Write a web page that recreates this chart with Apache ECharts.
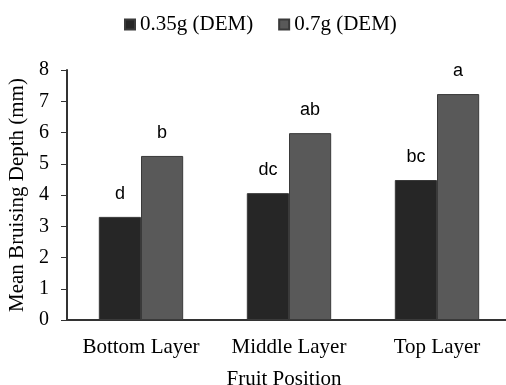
<!DOCTYPE html>
<html>
<head>
<meta charset="utf-8">
<script src="https://cdn.jsdelivr.net/npm/echarts@6/dist/echarts.min.js"></script>
<style>
  html, body { margin: 0; padding: 0; background: #fff; }
  #bruise_chart { width: 506px; height: 385px; }
</style>
</head>
<body>
<div id="bruise_chart"></div>
<script>
var categories = ['Bottom Layer', 'Middle Layer', 'Top Layer'];
var seriesNames = ['0.35g (DEM)', '0.7g (DEM)'];
var lowDrop = [3.3, 4.06, 4.48];
var highDrop = [5.25, 5.98, 7.23];
var lowLetters = ['d', 'dc', 'bc'];
var highLetters = ['b', 'ab', 'a'];
var yTicks = [0, 1, 2, 3, 4, 5, 6, 7, 8];

var serif = '"Liberation Serif", "Times New Roman", serif';
var sans = '"Liberation Sans", "DejaVu Sans", sans-serif';

function barSeries(name, values, letters, color) {
  return {
    name: name,
    type: 'bar',
    barGap: '0%',
    barCategoryGap: '43%',
    data: values,
    itemStyle: { color: color, borderColor: '#3a3a3a', borderWidth: 1 },
    label: {
      show: true,
      position: 'top',
      distance: 14,
      fontFamily: sans,
      fontSize: 18,
      color: '#000',
      formatter: function (p) { return letters[p.dataIndex]; }
    }
  };
}

var chart = echarts.init(document.getElementById('bruise_chart'));
chart.setOption({
  animation: false,
  legend: {
    top: 9,
    left: 119,
    itemWidth: 10,
    itemHeight: 10,
    itemGap: 25,
    icon: 'rect',
    textStyle: { fontFamily: serif, fontSize: 21, color: '#000' },
    data: seriesNames
  },
  grid: { left: 67, right: -5, top: 70, bottom: 65, containLabel: false, outerBoundsMode: 'none' },
  xAxis: {
    type: 'category',
    data: categories,
    name: 'Fruit Position',
    nameLocation: 'middle',
    nameGap: 49,
    nameTextStyle: { fontFamily: serif, fontSize: 21, color: '#000', padding: [0, 10, 0, 0] },
    axisLine: { lineStyle: { color: '#333', width: 2 } },
    axisTick: { show: false },
    axisLabel: { interval: 0, fontFamily: serif, fontSize: 21, color: '#000', margin: 17 }
  },
  yAxis: {
    type: 'value',
    min: yTicks[0],
    max: yTicks[yTicks.length - 1],
    interval: 1,
    name: 'Mean Bruising Depth (mm)',
    nameLocation: 'middle',
    nameGap: 36,
    nameTextStyle: { fontFamily: serif, fontSize: 21, color: '#000' },
    axisLine: { show: true, lineStyle: { color: '#333', width: 2 } },
    axisTick: { show: true, length: 6, lineStyle: { color: '#333' } },
    splitLine: { show: false },
    axisLabel: { fontFamily: serif, fontSize: 20, color: '#000', margin: 18 }
  },
  series: [
    barSeries(seriesNames[0], lowDrop, lowLetters, '#262626'),
    barSeries(seriesNames[1], highDrop, highLetters, '#595959')
  ]
});
</script>
</body>
</html>
